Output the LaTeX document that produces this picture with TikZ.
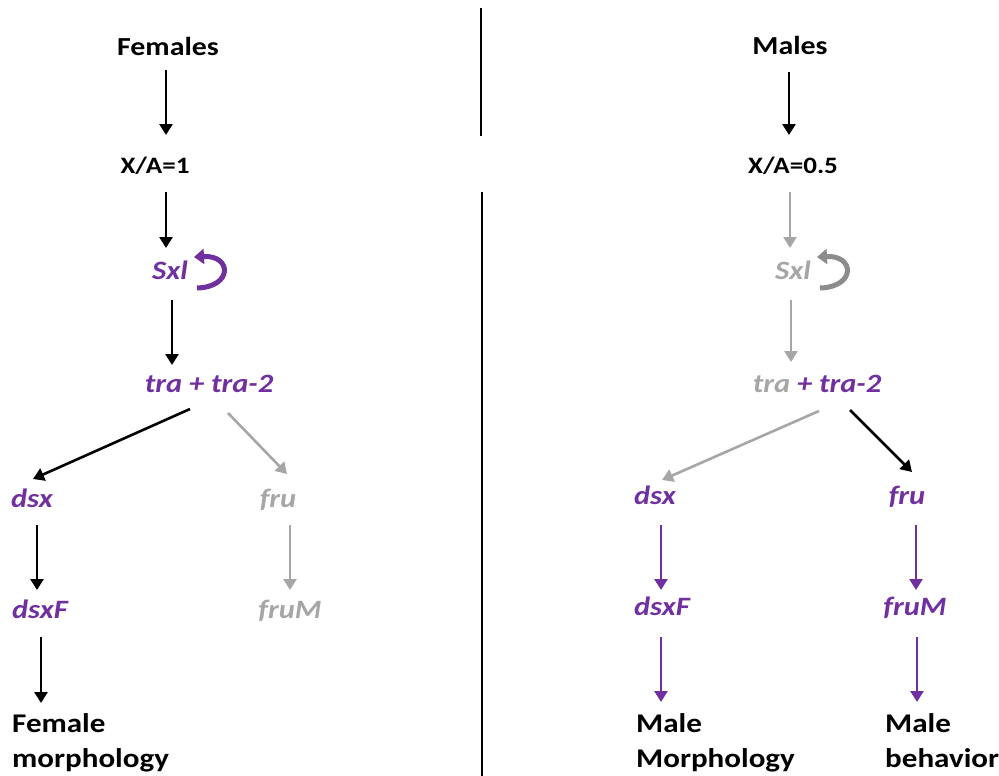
\documentclass[tikz,border=0pt]{standalone}
\usepackage{fontspec}
\setmainfont{Carlito}[FakeStretch=1.15]
\usetikzlibrary{arrows.meta,calc}
\definecolor{purp}{HTML}{7030A0}
\definecolor{lgray}{HTML}{A6A6A6}
\definecolor{mgray}{HTML}{8C8C8C}
\tikzset{
  lbl/.style={inner sep=0pt,anchor=base,font=\bfseries\fontsize{26}{30}\selectfont},
  ratio/.style={inner sep=0pt,anchor=base,font=\bfseries\fontsize{23.5}{28}\selectfont},
  gene/.style={inner sep=0pt,anchor=base,font=\bfseries\itshape\fontsize{26.5}{30}\selectfont,text=purp},
  offgene/.style={gene,text=lgray},
  outcome/.style={inner sep=0pt,anchor=base west,align=left,font=\bfseries\fontsize{27}{35}\selectfont},
  arr/.style={line width=2.6pt,-{Triangle[length=11pt,width=13pt]}},
  blk/.style={arr,black},
  gry/.style={arr,lgray},
  pur/.style={arr,purp},
  loopar/.style={line width=5pt,-{Triangle[length=10pt,width=15pt]}},
  divider/.style={line width=1.2pt,black}
}
\begin{document}
\begin{tikzpicture}[x=1pt,y=-1pt]
\useasboundingbox (0,0) rectangle (999,776);
% divider
\coordinate (d1) at (481,8);
\coordinate (d2) at (481,136);
\coordinate (d3) at (482,192);
\coordinate (d4) at (482,776);
\draw[divider] (d1) -- (d2);
\draw[divider] (d3) -- (d4);

% left column
\node[lbl] (fem) at (168,56) {Females};
\node[ratio] (xa1) at (155,173) {X/A=1};
\node[gene] (sxl1) at (170,279) {Sxl};
\node[gene] (tra1) at (209,392) {tra + tra-2};
\node[gene] (dsx1) at (32,507) {dsx};
\node[offgene] (fru1) at (278,507) {fru};
\node[gene] (dsxF1) at (40,618) {dsxF};
\node[offgene] (fruM1) at (290,618) {fruM};
\node[outcome] (femmorph) at (12,767) {Female\\morphology};

% right column
\node[lbl] (males) at (790,55) {Males};
\node[ratio] (xa2) at (793,173) {X/A=0.5};
\node[offgene] (sxl2) at (793,279) {Sxl};
\node[gene] (tra2) at (817,392) {\textcolor{lgray}{tra} + tra-2};
\node[gene] (dsx2) at (655,504) {dsx};
\node[gene] (fru2) at (907,504) {fru};
\node[gene] (dsxF2) at (662,615) {dsxF};
\node[gene] (fruM2) at (915,615) {fruM};
\node[outcome] (malemorph) at (636,767) {Male\\Morphology};
\node[outcome] (malebeh) at (885,767) {Male\\behavior};

% left arrows
\draw[blk] ([shift={(-2,14)}]fem.base) -- ([shift={(11,-38)}]xa1.base);
\draw[blk] ([shift={(11,19)}]xa1.base) -- ([shift={(-4,-31)}]sxl1.base);
\draw[blk] ([shift={(2,21)}]sxl1.base) -- ([shift={(-37,-27)}]tra1.base);
\draw[blk] ([shift={(-19,17)}]tra1.base) -- ([shift={(1,-28)}]dsx1.base);
\draw[gry] ([shift={(19,21)}]tra1.base) -- ([shift={(9,-33)}]fru1.base);
\draw[blk] ([shift={(5,18)}]dsx1.base) -- ([shift={(-3,-28)}]dsxF1.base);
\draw[gry] ([shift={(12,18)}]fru1.base) -- ([shift={(0,-28)}]fruM1.base);
\draw[blk] ([shift={(1,19)}]dsxF1.base) -- ([shift={(29,-64)}]femmorph.base west);
\draw[loopar,purp] ([shift={(27,9)}]sxl1.base) .. controls ([shift={(63,8)}]sxl1.base) and ([shift={(62,-24)}]sxl1.base) .. ([shift={(24,-22)}]sxl1.base);

% right arrows
\draw[blk] ([shift={(-1,17)}]males.base) -- ([shift={(-4,-38)}]xa2.base);
\draw[gry] ([shift={(-3,19)}]xa2.base) -- ([shift={(-3,-31)}]sxl2.base);
\draw[gry] ([shift={(-2,21)}]sxl2.base) -- ([shift={(-26,-30)}]tra2.base);
\draw[gry] ([shift={(2,19)}]tra2.base) -- ([shift={(7,-24)}]dsx2.base);
\draw[blk] ([shift={(33,18)}]tra2.base) -- ([shift={(5,-32)}]fru2.base);
\draw[pur] ([shift={(6,21)}]dsx2.base) -- ([shift={(-1,-25)}]dsxF2.base);
\draw[pur] ([shift={(9,21)}]fru2.base) -- ([shift={(1,-25)}]fruM2.base);
\draw[pur] ([shift={(-1,22)}]dsxF2.base) -- ([shift={(25,-65)}]malemorph.base west);
\draw[pur] ([shift={(2,22)}]fruM2.base) -- ([shift={(32,-65)}]malebeh.base west);
\draw[loopar,mgray] ([shift={(27,9)}]sxl2.base) .. controls ([shift={(63,8)}]sxl2.base) and ([shift={(62,-24)}]sxl2.base) .. ([shift={(24,-22)}]sxl2.base);
\end{tikzpicture}
\end{document}
